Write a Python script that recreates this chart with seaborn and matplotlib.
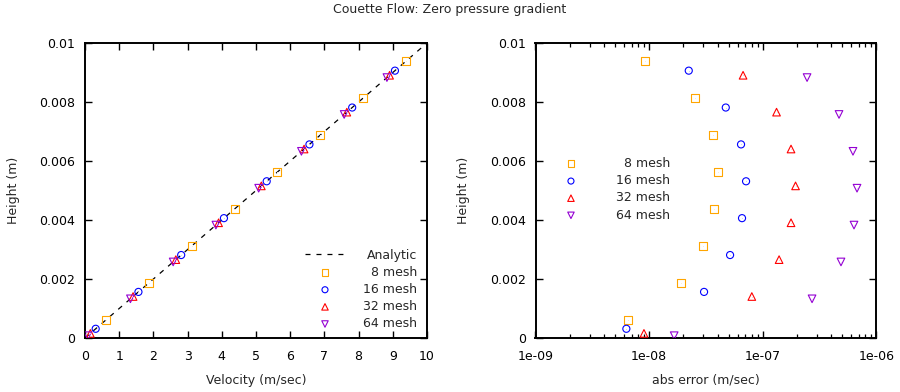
import matplotlib
matplotlib.use("Agg")
import matplotlib.pyplot as plt
import matplotlib.ticker as mticker
import pandas as pd
import seaborn as sns

# --- data
analytic_velocity = [0.0, 10.0]
analytic_height = [0.0, 0.01]

mesh_labels = ["8 mesh", "16 mesh", "32 mesh", "64 mesh"]

height_8 = [0.000625, 0.001875, 0.003125, 0.004375, 0.005625, 0.006875, 0.008125, 0.009375]
height_16 = [0.0003125, 0.0015625, 0.0028125, 0.0040625, 0.0053125, 0.0065625, 0.0078125, 0.0090625]
height_32 = [0.00015625, 0.00140625, 0.00265625, 0.00390625, 0.00515625, 0.00640625, 0.00765625, 0.00890625]
height_64 = [0.000078, 0.001328, 0.002578, 0.003828, 0.005078, 0.006328, 0.007578, 0.008828]

velocity_8 = [0.625, 1.875, 3.125, 4.375, 5.625, 6.875, 8.125, 9.375]
velocity_16 = [0.3125, 1.5625, 2.8125, 4.0625, 5.3125, 6.5625, 7.8125, 9.0625]
velocity_32 = [0.156, 1.406, 2.656, 3.906, 5.156, 6.406, 7.656, 8.906]
velocity_64 = [0.078, 1.328, 2.578, 3.828, 5.078, 6.328, 7.578, 8.828]

error_8 = [6.5e-9, 1.91e-8, 2.98e-8, 3.72e-8, 4.04e-8, 3.65e-8, 2.54e-8, 9.2e-9]
error_16 = [6.3e-9, 3.04e-8, 5.15e-8, 6.56e-8, 7.12e-8, 6.43e-8, 4.72e-8, 2.23e-8]
error_32 = [9.0e-9, 8.0e-8, 1.39e-7, 1.77e-7, 1.94e-7, 1.77e-7, 1.32e-7, 6.7e-8]
error_64 = [1.66e-8, 2.71e-7, 4.87e-7, 6.34e-7, 6.74e-7, 6.21e-7, 4.68e-7, 2.45e-7]

x_ticks_velocity = [0, 1, 2, 3, 4, 5, 6, 7, 8, 9, 10]
y_ticks_height = [0, 0.002, 0.004, 0.006, 0.008, 0.01]
x_ticks_error = [1e-9, 1e-8, 1e-7, 1e-6]

heights = [height_8, height_16, height_32, height_64]
velocities = [velocity_8, velocity_16, velocity_32, velocity_64]
errors = [error_8, error_16, error_32, error_64]
colors = ["#ffa500", "#0000ff", "#ff0000", "#9400d3"]
markers = ["s", "o", "^", "v"]
sizes = [34, 26, 30, 30]

rows = []
for label, h, u, e in zip(mesh_labels, heights, velocities, errors):
    for hh, uu, ee in zip(h, u, e):
        rows.append({"mesh": label, "height": hh, "velocity": uu, "error": ee})
df = pd.DataFrame(rows)

sns.set_theme(style="white")
plt.rcParams["font.family"] = ["DejaVu Sans"]
plt.rcParams["font.size"] = 9
plt.rcParams["lines.scale_dashes"] = False

fig = plt.figure(figsize=(9, 3.92), dpi=100)
ax1 = fig.add_axes([85 / 900, 54 / 392, 342 / 900, 295 / 392])
ax2 = fig.add_axes([535.5 / 900, 54 / 392, 341 / 900, 295 / 392])

# analytic profile
sns.lineplot(x=analytic_velocity, y=analytic_height, color="black", linewidth=0.9,
             ax=ax1, label="Analytic")
ax1.lines[-1].set_dashes((3.6, 4.3))

for label, color, marker, size in zip(mesh_labels, colors, markers, sizes):
    sub = df[df["mesh"] == label]
    sns.scatterplot(data=sub, x="velocity", y="height", marker=marker, s=size,
                    color=color, facecolor="none", edgecolor=color, linewidth=0.8,
                    ax=ax1, label=label, zorder=3)
    sns.scatterplot(data=sub, x="error", y="height", marker=marker, s=size,
                    color=color, facecolor="none", edgecolor=color, linewidth=0.8,
                    ax=ax2, label=label, zorder=3)
    for ax, xcol in ((ax1, "velocity"), (ax2, "error")):
        sns.scatterplot(data=sub, x=xcol, y="height", marker=".", s=2, color=color,
                        linewidth=0, ax=ax, legend=False, zorder=4)

ax1.set_xlim(0, 10)
ax1.set_ylim(0, 0.01)
ax1.set_xticks(x_ticks_velocity)
ax1.set_yticks(y_ticks_height)
ax1.xaxis.set_major_formatter(mticker.FuncFormatter(lambda v, p: f"{v:g}"))
ax1.yaxis.set_major_formatter(mticker.FuncFormatter(lambda v, p: f"{v:g}"))

ax2.set_xscale("log")
ax2.set_xlim(1e-9, 1e-6)
ax2.set_ylim(0, 0.01)
ax2.set_xticks(x_ticks_error)
ax2.xaxis.set_minor_locator(mticker.LogLocator(base=10, subs=range(2, 10), numticks=20))
ax2.xaxis.set_minor_formatter(mticker.NullFormatter())
ax2.xaxis.set_major_formatter(mticker.FuncFormatter(lambda v, p: f"{v:.0e}"))
ax2.set_yticks(y_ticks_height)
ax2.yaxis.set_major_formatter(mticker.FuncFormatter(lambda v, p: f"{v:g}"))

for ax in (ax1, ax2):
    for spine in ax.spines.values():
        spine.set_visible(True)
        spine.set_linewidth(1.4)
        spine.set_color("black")
    ax.tick_params(which="major", direction="in", length=5, width=1.0,
                   top=True, right=True, bottom=True, left=True,
                   labelsize=9, labelcolor="black", color="black", pad=7)
    ax.tick_params(axis="x", which="major", pad=8.5)
    ax.tick_params(which="minor", direction="in", length=3.2, width=0.9,
                   top=True, bottom=True, color="black")
    ax.set_ylabel("Height (m)", fontsize=9)
    ax.grid(False)

ax1.set_xlabel("Velocity (m/sec)", fontsize=9)
ax2.set_xlabel("abs error (m/sec)", fontsize=9)
ax1.yaxis.set_label_coords(-0.19, 0.5)
ax2.yaxis.set_label_coords(-0.1935, 0.5)
ax1.xaxis.set_label_coords(0.5, -0.122)
ax2.xaxis.set_label_coords(0.5, -0.122)

fig.suptitle("Couette Flow: Zero pressure gradient", fontsize=9, y=1 - 3.5 / 392, va="top")

leg1 = ax1.legend(loc="lower right", bbox_to_anchor=(0.989, 0.005), frameon=False,
                  borderpad=0, handlelength=3.2, handletextpad=1.44, labelspacing=0.33,
                  markerscale=0.85, fontsize=9)
leg2 = ax2.legend(loc="upper left", bbox_to_anchor=(0.027, 0.634), frameon=False,
                  borderpad=0, handlelength=3.2, handletextpad=2.0, labelspacing=0.33,
                  markerscale=0.85, fontsize=9)

# right-align the legend texts like the original
renderer = fig.canvas.get_renderer()
for leg in (leg1, leg2):
    widths = [t.get_window_extent(renderer).width for t in leg.get_texts()]
    widest = max(widths)
    for t, w in zip(leg.get_texts(), widths):
        t.set_position((widest - w, 0))

fig.savefig("out.png", dpi=100)
